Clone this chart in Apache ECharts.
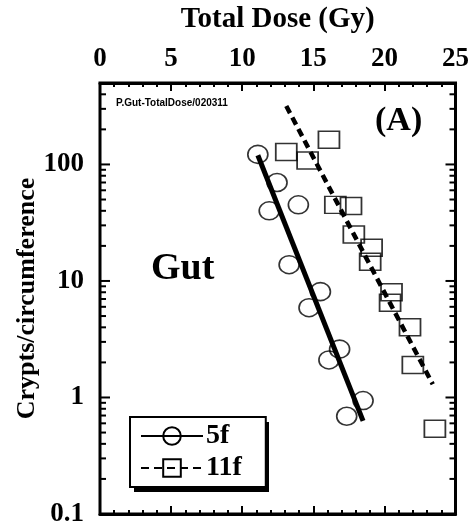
<!DOCTYPE html>
<html>
<head>
<meta charset="utf-8">
<script src="https://cdn.jsdelivr.net/npm/echarts@6/dist/echarts.min.js"></script>
<style>
  html, body { margin: 0; padding: 0; background: #fff; }
  #chart { width: 472px; height: 529px; }
</style>
</head>
<body>
<div id="chart"></div>
<script>
// Crypt survival in the gut versus total dose, two fractionation schedules
const dose5f = [11.1, 12.45, 11.9, 13.95, 13.3, 15.5, 14.7, 16.85, 16.1, 18.5, 17.35];
const crypts5f = [122, 70, 40, 45, 13.8, 8.1, 5.9, 2.6, 2.1, 0.94, 0.69];

const dose11f = [13.1, 14.6, 16.1, 16.55, 17.65, 17.85, 19.1, 19.0, 20.5, 20.4, 21.8, 22.0, 23.55];
const crypts11f = [128, 108, 163, 45, 44, 25, 19.3, 14.6, 8.0, 6.5, 4.0, 1.9, 0.54];

// Exponential fits (straight on the log axis), end points
const fit5fDose = [11.1, 18.5];
const fit5fCrypts = [120, 0.63];
const fit11fDose = [13.1, 23.4];
const fit11fCrypts = [317, 1.3];

// Axis ranges and tick labels
const doseTicks = [0, 5, 10, 15, 20, 25];
const cryptDecades = [0.1, 1, 10, 100];
const cryptMax = 500;

const SERIF = '"Liberation Serif", "Times New Roman", serif';
const SANS = '"Liberation Sans", Arial, sans-serif';

const zip = (xs, ys) => xs.map((x, i) => [x, ys[i]]);

// Log-axis tick marks: decades (long) and 2..9 multiples (short)
const yTickMarks = [];
cryptDecades.forEach(d => {
  if (d > cryptDecades[0]) yTickMarks.push([0, d, 1]);
  for (let m = 2; m <= 9; m++) {
    const v = +(d * m).toPrecision(6);
    if (v < cryptMax) yTickMarks.push([0, v, 0]);
  }
});

const isDecade = v => Math.abs(Math.log10(v) - Math.round(Math.log10(v))) < 1e-6;

const chart = echarts.init(document.getElementById('chart'), null, { renderer: 'canvas' });

chart.setOption({
  animation: false,
  backgroundColor: '#fff',
  grid: {
    left: 100, top: 80, width: 360, height: 434,
    show: true, borderColor: '#000', borderWidth: 3, backgroundColor: 'transparent'
  },
  xAxis: [
    {
      type: 'value', position: 'top', min: doseTicks[0], max: doseTicks[doseTicks.length - 1], interval: 5,
      name: 'Total Dose (Gy)', nameLocation: 'middle', nameGap: 49,
      nameTextStyle: { fontFamily: SERIF, fontWeight: 'bold', fontSize: 29, color: '#000' },
      axisLine: { lineStyle: { color: '#000', width: 3 } },
      axisTick: { inside: true, length: 8, lineStyle: { color: '#000', width: 2 } },
      minorTick: { show: true, splitNumber: 5, length: 4, lineStyle: { color: '#000', width: 2 } },
      splitLine: { show: false },
      axisLabel: { margin: 10, fontFamily: SERIF, fontWeight: 'bold', fontSize: 27, color: '#000' }
    },
    {
      type: 'value', position: 'bottom', min: doseTicks[0], max: doseTicks[doseTicks.length - 1], interval: 5,
      axisLine: { lineStyle: { color: '#000', width: 3 } },
      axisTick: { inside: true, length: 8, lineStyle: { color: '#000', width: 2 } },
      minorTick: { show: true, splitNumber: 5, length: 4, lineStyle: { color: '#000', width: 2 } },
      splitLine: { show: false },
      axisLabel: { show: false }
    }
  ],
  yAxis: {
    type: 'log', logBase: 10, min: cryptDecades[0], max: cryptMax,
    name: 'Crypts/circumference', nameLocation: 'middle', nameGap: 60, nameRotate: 90,
    nameMoveOverlap: false,
    nameTextStyle: { fontFamily: SERIF, fontWeight: 'bold', fontSize: 26, color: '#000' },
    axisLine: { show: false },
    axisTick: { show: false },
    splitLine: { show: false },
    axisLabel: {
      margin: 16, fontFamily: SERIF, fontWeight: 'bold', fontSize: 27, color: '#000',
      showMaxLabel: false,
      formatter: v => isDecade(v) ? String(+v.toPrecision(3)) : ''
    }
  },
  legend: {
    data: ['5f', '11f'],
    orient: 'vertical', left: 130, top: 417,
    itemWidth: 62, itemHeight: 22, itemGap: 4,
    padding: [5, 24, 5, 10],
    backgroundColor: '#fff', borderColor: '#000', borderWidth: 2, borderRadius: 0,
    selectedMode: false, z: 6,
    textStyle: { fontFamily: SERIF, fontWeight: 'bold', fontSize: 28, color: '#000', padding: [0, 0, 0, -2] }
  },
  graphic: [
    // drop shadow behind the legend box
    { type: 'rect', z: 5, silent: true,
      shape: { x: 134, y: 422, width: 135, height: 70 },
      style: { fill: '#000' } },
    { type: 'text', left: 116, top: 98, z: 10,
      style: { text: 'P.Gut-TotalDose/020311', font: 'bold 10px ' + SANS, fill: '#000' } },
    { type: 'text', left: 375, top: 104, z: 10,
      style: { text: '(A)', font: 'bold 34px ' + SERIF, fill: '#000' } },
    { type: 'text', left: 151, top: 250, z: 10,
      style: { text: 'Gut', font: 'bold 38px ' + SERIF, fill: '#000' } }
  ],
  series: [
    {
      name: 'y ticks', type: 'custom', silent: true, xAxisIndex: 0, yAxisIndex: 0,
      clip: false, z: 5,
      data: yTickMarks,
      renderItem: (params, api) => {
        const left = api.coord([doseTicks[0], api.value(1)]);
        const right = api.coord([doseTicks[doseTicks.length - 1], api.value(1)]);
        const len = api.value(2) ? 10 : 6;
        const style = { stroke: '#000', lineWidth: 2 };
        return {
          type: 'group',
          children: [
            { type: 'line', shape: { x1: left[0], y1: left[1], x2: left[0] + len, y2: left[1] }, style },
            { type: 'line', shape: { x1: right[0], y1: right[1], x2: right[0] - len, y2: right[1] }, style }
          ]
        };
      }
    },
    {
      name: '5f data', type: 'scatter', xAxisIndex: 0,
      data: zip(dose5f, crypts5f),
      symbol: 'circle', symbolSize: [20, 18],
      itemStyle: { color: 'rgba(255,255,255,0)', borderColor: '#000', borderWidth: 1.6 },
      z: 2
    },
    {
      name: '11f data', type: 'scatter', xAxisIndex: 0,
      data: zip(dose11f, crypts11f),
      symbol: 'rect', symbolSize: [21, 17],
      itemStyle: { color: 'rgba(255,255,255,0)', borderColor: '#000', borderWidth: 1.6 },
      z: 2
    },
    {
      name: '5f', type: 'line', xAxisIndex: 0,
      data: zip(fit5fDose, fit5fCrypts),
      showSymbol: false, symbol: 'circle',
      itemStyle: { color: 'rgba(255,255,255,0)', borderColor: '#000', borderWidth: 1.6 },
      lineStyle: { color: '#000', width: 5, type: 'solid' },
      z: 3
    },
    {
      name: '11f', type: 'line', xAxisIndex: 0,
      data: zip(fit11fDose, fit11fCrypts),
      showSymbol: false, symbol: 'rect',
      itemStyle: { color: 'rgba(255,255,255,0)', borderColor: '#000', borderWidth: 1.6 },
      lineStyle: { color: '#000', width: 4.5, type: [8, 5] },
      z: 3
    }
  ]
});
</script>
</body>
</html>
